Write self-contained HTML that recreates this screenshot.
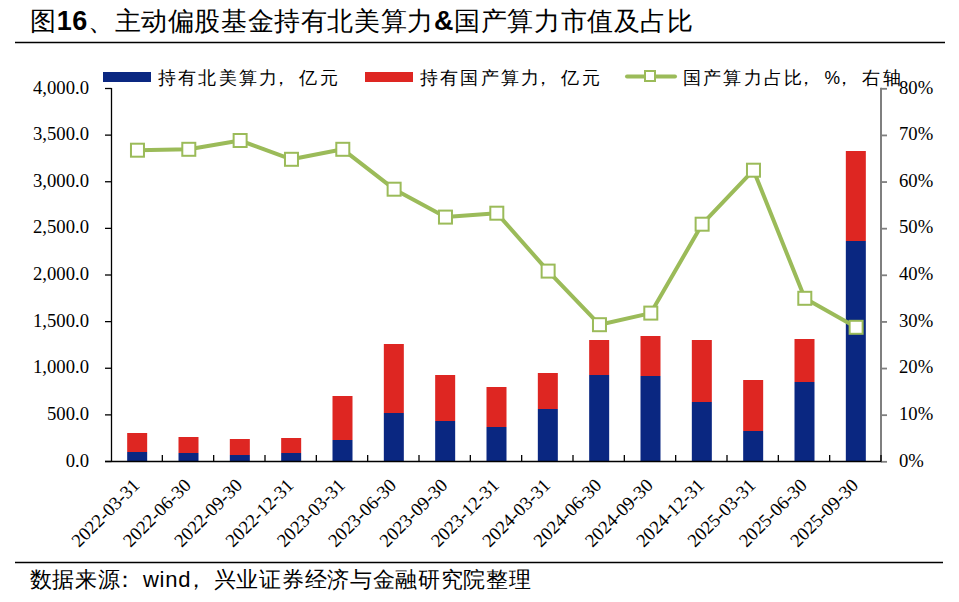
<!DOCTYPE html>
<html><head><meta charset="utf-8"><style>
html,body{margin:0;padding:0;background:#fff;width:959px;height:602px;overflow:hidden}
svg{display:block}
.ax,.xl{font-family:"Liberation Serif",serif;font-size:18.67px;fill:#000}
.lg{font-family:"Liberation Sans",sans-serif;font-size:17.5px;letter-spacing:2.2px;fill:#000}
.tt{font-family:"Liberation Sans",sans-serif;font-size:26px;letter-spacing:0.62px;fill:#000}
.b{font-weight:bold;font-size:27px}
.ft{font-family:"Liberation Sans",sans-serif;font-size:22px;letter-spacing:0.7px;fill:#000}
</style></head><body>
<svg width="959" height="602" viewBox="0 0 959 602">
<rect x="127.17" y="433" width="20" height="19" fill="#de2622"/>
<rect x="127.17" y="452" width="20" height="9" fill="#0a2781"/>
<rect x="178.50" y="437" width="20" height="16" fill="#de2622"/>
<rect x="178.50" y="453" width="20" height="8" fill="#0a2781"/>
<rect x="229.83" y="439" width="20" height="16" fill="#de2622"/>
<rect x="229.83" y="455" width="20" height="6" fill="#0a2781"/>
<rect x="281.17" y="438" width="20" height="15" fill="#de2622"/>
<rect x="281.17" y="453" width="20" height="8" fill="#0a2781"/>
<rect x="332.50" y="396" width="20" height="44" fill="#de2622"/>
<rect x="332.50" y="440" width="20" height="21" fill="#0a2781"/>
<rect x="383.83" y="344" width="20" height="69" fill="#de2622"/>
<rect x="383.83" y="413" width="20" height="48" fill="#0a2781"/>
<rect x="435.17" y="375" width="20" height="46" fill="#de2622"/>
<rect x="435.17" y="421" width="20" height="40" fill="#0a2781"/>
<rect x="486.50" y="387" width="20" height="40" fill="#de2622"/>
<rect x="486.50" y="427" width="20" height="34" fill="#0a2781"/>
<rect x="537.83" y="373" width="20" height="36" fill="#de2622"/>
<rect x="537.83" y="409" width="20" height="52" fill="#0a2781"/>
<rect x="589.17" y="340" width="20" height="35" fill="#de2622"/>
<rect x="589.17" y="375" width="20" height="86" fill="#0a2781"/>
<rect x="640.50" y="336" width="20" height="40" fill="#de2622"/>
<rect x="640.50" y="376" width="20" height="85" fill="#0a2781"/>
<rect x="691.83" y="340" width="20" height="62" fill="#de2622"/>
<rect x="691.83" y="402" width="20" height="59" fill="#0a2781"/>
<rect x="743.17" y="380" width="20" height="51" fill="#de2622"/>
<rect x="743.17" y="431" width="20" height="30" fill="#0a2781"/>
<rect x="794.50" y="339" width="20" height="43" fill="#de2622"/>
<rect x="794.50" y="382" width="20" height="79" fill="#0a2781"/>
<rect x="845.83" y="151" width="20" height="90" fill="#de2622"/>
<rect x="845.83" y="241" width="20" height="220" fill="#0a2781"/>
<line x1="111.5" y1="88" x2="111.5" y2="461.5" stroke="#000" stroke-width="1.3"/>
<line x1="105" y1="461.50" x2="111.5" y2="461.50" stroke="#000" stroke-width="1.3"/>
<text x="89" y="466.50" class="ax" text-anchor="end">0.0</text>
<line x1="105" y1="414.88" x2="111.5" y2="414.88" stroke="#000" stroke-width="1.3"/>
<text x="89" y="419.88" class="ax" text-anchor="end">500.0</text>
<line x1="105" y1="368.25" x2="111.5" y2="368.25" stroke="#000" stroke-width="1.3"/>
<text x="89" y="373.25" class="ax" text-anchor="end">1,000.0</text>
<line x1="105" y1="321.62" x2="111.5" y2="321.62" stroke="#000" stroke-width="1.3"/>
<text x="89" y="326.62" class="ax" text-anchor="end">1,500.0</text>
<line x1="105" y1="275.00" x2="111.5" y2="275.00" stroke="#000" stroke-width="1.3"/>
<text x="89" y="280.00" class="ax" text-anchor="end">2,000.0</text>
<line x1="105" y1="228.38" x2="111.5" y2="228.38" stroke="#000" stroke-width="1.3"/>
<text x="89" y="233.38" class="ax" text-anchor="end">2,500.0</text>
<line x1="105" y1="181.75" x2="111.5" y2="181.75" stroke="#000" stroke-width="1.3"/>
<text x="89" y="186.75" class="ax" text-anchor="end">3,000.0</text>
<line x1="105" y1="135.12" x2="111.5" y2="135.12" stroke="#000" stroke-width="1.3"/>
<text x="89" y="140.12" class="ax" text-anchor="end">3,500.0</text>
<line x1="105" y1="88.50" x2="111.5" y2="88.50" stroke="#000" stroke-width="1.3"/>
<text x="89" y="93.50" class="ax" text-anchor="end">4,000.0</text>
<line x1="881" y1="87.7" x2="881" y2="461.5" stroke="#7f7f7f" stroke-width="2"/>
<line x1="881" y1="461.80" x2="887" y2="461.80" stroke="#7f7f7f" stroke-width="1.8"/>
<text x="899" y="466.50" class="ax">0%</text>
<line x1="881" y1="415.18" x2="887" y2="415.18" stroke="#7f7f7f" stroke-width="1.8"/>
<text x="899" y="419.88" class="ax">10%</text>
<line x1="881" y1="368.55" x2="887" y2="368.55" stroke="#7f7f7f" stroke-width="1.8"/>
<text x="899" y="373.25" class="ax">20%</text>
<line x1="881" y1="321.93" x2="887" y2="321.93" stroke="#7f7f7f" stroke-width="1.8"/>
<text x="899" y="326.62" class="ax">30%</text>
<line x1="881" y1="275.30" x2="887" y2="275.30" stroke="#7f7f7f" stroke-width="1.8"/>
<text x="899" y="280.00" class="ax">40%</text>
<line x1="881" y1="228.68" x2="887" y2="228.68" stroke="#7f7f7f" stroke-width="1.8"/>
<text x="899" y="233.38" class="ax">50%</text>
<line x1="881" y1="182.05" x2="887" y2="182.05" stroke="#7f7f7f" stroke-width="1.8"/>
<text x="899" y="186.75" class="ax">60%</text>
<line x1="881" y1="135.43" x2="887" y2="135.43" stroke="#7f7f7f" stroke-width="1.8"/>
<text x="899" y="140.12" class="ax">70%</text>
<line x1="881" y1="88.80" x2="887" y2="88.80" stroke="#7f7f7f" stroke-width="1.8"/>
<text x="899" y="93.50" class="ax">80%</text>
<line x1="105" y1="461.5" x2="881.5" y2="461.5" stroke="#000" stroke-width="1.3"/>
<line x1="162.33" y1="455" x2="162.33" y2="461" stroke="#000" stroke-width="1.3"/>
<line x1="213.67" y1="455" x2="213.67" y2="461" stroke="#000" stroke-width="1.3"/>
<line x1="265.00" y1="455" x2="265.00" y2="461" stroke="#000" stroke-width="1.3"/>
<line x1="316.33" y1="455" x2="316.33" y2="461" stroke="#000" stroke-width="1.3"/>
<line x1="367.67" y1="455" x2="367.67" y2="461" stroke="#000" stroke-width="1.3"/>
<line x1="419.00" y1="455" x2="419.00" y2="461" stroke="#000" stroke-width="1.3"/>
<line x1="470.33" y1="455" x2="470.33" y2="461" stroke="#000" stroke-width="1.3"/>
<line x1="521.67" y1="455" x2="521.67" y2="461" stroke="#000" stroke-width="1.3"/>
<line x1="573.00" y1="455" x2="573.00" y2="461" stroke="#000" stroke-width="1.3"/>
<line x1="624.33" y1="455" x2="624.33" y2="461" stroke="#000" stroke-width="1.3"/>
<line x1="675.67" y1="455" x2="675.67" y2="461" stroke="#000" stroke-width="1.3"/>
<line x1="727.00" y1="455" x2="727.00" y2="461" stroke="#000" stroke-width="1.3"/>
<line x1="778.33" y1="455" x2="778.33" y2="461" stroke="#000" stroke-width="1.3"/>
<line x1="829.67" y1="455" x2="829.67" y2="461" stroke="#000" stroke-width="1.3"/>
<line x1="881.00" y1="455" x2="881.00" y2="461" stroke="#000" stroke-width="1.3"/>
<polyline points="137.47,150.2 188.80,149.3 240.13,140.5 291.47,159.3 342.80,149.3 394.13,189.2 445.47,217.1 496.80,213.2 548.13,271.1 599.47,324.7 650.80,313.1 702.13,224.2 753.47,170.2 804.80,298.3 856.13,327.3" fill="none" stroke="#9bbb59" stroke-width="4" stroke-linejoin="round"/>
<rect x="130.97" y="143.70" width="13" height="13" fill="#fff" stroke="#9bbb59" stroke-width="2"/>
<rect x="182.30" y="142.80" width="13" height="13" fill="#fff" stroke="#9bbb59" stroke-width="2"/>
<rect x="233.63" y="134.00" width="13" height="13" fill="#fff" stroke="#9bbb59" stroke-width="2"/>
<rect x="284.97" y="152.80" width="13" height="13" fill="#fff" stroke="#9bbb59" stroke-width="2"/>
<rect x="336.30" y="142.80" width="13" height="13" fill="#fff" stroke="#9bbb59" stroke-width="2"/>
<rect x="387.63" y="182.70" width="13" height="13" fill="#fff" stroke="#9bbb59" stroke-width="2"/>
<rect x="438.97" y="210.60" width="13" height="13" fill="#fff" stroke="#9bbb59" stroke-width="2"/>
<rect x="490.30" y="206.70" width="13" height="13" fill="#fff" stroke="#9bbb59" stroke-width="2"/>
<rect x="541.63" y="264.60" width="13" height="13" fill="#fff" stroke="#9bbb59" stroke-width="2"/>
<rect x="592.97" y="318.20" width="13" height="13" fill="#fff" stroke="#9bbb59" stroke-width="2"/>
<rect x="644.30" y="306.60" width="13" height="13" fill="#fff" stroke="#9bbb59" stroke-width="2"/>
<rect x="695.63" y="217.70" width="13" height="13" fill="#fff" stroke="#9bbb59" stroke-width="2"/>
<rect x="746.97" y="163.70" width="13" height="13" fill="#fff" stroke="#9bbb59" stroke-width="2"/>
<rect x="798.30" y="291.80" width="13" height="13" fill="#fff" stroke="#9bbb59" stroke-width="2"/>
<rect x="849.63" y="320.80" width="13" height="13" fill="#fff" stroke="#9bbb59" stroke-width="2"/>
<text class="xl" transform="translate(140.67,486.5) rotate(-45)" text-anchor="end">2022-03-31</text>
<text class="xl" transform="translate(192.00,486.5) rotate(-45)" text-anchor="end">2022-06-30</text>
<text class="xl" transform="translate(243.33,486.5) rotate(-45)" text-anchor="end">2022-09-30</text>
<text class="xl" transform="translate(294.67,486.5) rotate(-45)" text-anchor="end">2022-12-31</text>
<text class="xl" transform="translate(346.00,486.5) rotate(-45)" text-anchor="end">2023-03-31</text>
<text class="xl" transform="translate(397.33,486.5) rotate(-45)" text-anchor="end">2023-06-30</text>
<text class="xl" transform="translate(448.67,486.5) rotate(-45)" text-anchor="end">2023-09-30</text>
<text class="xl" transform="translate(500.00,486.5) rotate(-45)" text-anchor="end">2023-12-31</text>
<text class="xl" transform="translate(551.33,486.5) rotate(-45)" text-anchor="end">2024-03-31</text>
<text class="xl" transform="translate(602.67,486.5) rotate(-45)" text-anchor="end">2024-06-30</text>
<text class="xl" transform="translate(654.00,486.5) rotate(-45)" text-anchor="end">2024-09-30</text>
<text class="xl" transform="translate(705.33,486.5) rotate(-45)" text-anchor="end">2024-12-31</text>
<text class="xl" transform="translate(756.67,486.5) rotate(-45)" text-anchor="end">2025-03-31</text>
<text class="xl" transform="translate(808.00,486.5) rotate(-45)" text-anchor="end">2025-06-30</text>
<text class="xl" transform="translate(859.33,486.5) rotate(-45)" text-anchor="end">2025-09-30</text>
<rect x="103" y="72" width="48" height="10" fill="#0a2781"/>
<text x="158" y="83.5" class="lg">持有北美算力<tspan dx="-7">，</tspan><tspan dx="7">亿</tspan>元</text>
<rect x="365" y="72" width="48" height="10" fill="#de2622"/>
<text x="420" y="83.5" class="lg">持有国产算力<tspan dx="-7">，</tspan><tspan dx="7">亿</tspan>元</text>
<line x1="627" y1="76.5" x2="675" y2="76.5" stroke="#9bbb59" stroke-width="4" stroke-linecap="round"/>
<rect x="645" y="71" width="10" height="10" fill="#fff" stroke="#9bbb59" stroke-width="2"/>
<text x="683" y="83.5" class="lg">国产算力占比<tspan dx="-7">，</tspan><tspan dx="7">%</tspan><tspan dx="-7">，</tspan><tspan dx="7">右</tspan>轴</text>
<text x="30" y="30.3" class="tt">图<tspan class="b">16</tspan>、主动偏股基金持有北美算力<tspan class="b">&amp;</tspan>国产算力市值及占比</text>
<line x1="15" y1="42.5" x2="945" y2="42.5" stroke="#000" stroke-width="1.6"/>
<line x1="15" y1="562.5" x2="943" y2="562.5" stroke="#000" stroke-width="1.3"/>
<text x="29.5" y="587" class="ft">数据来源<tspan dx="-6">：</tspan><tspan dx="6">w</tspan>ind<tspan dx="-6">，</tspan><tspan dx="6">兴</tspan>业证券经济与金融研究院整理</text>
</svg>
</body></html>
